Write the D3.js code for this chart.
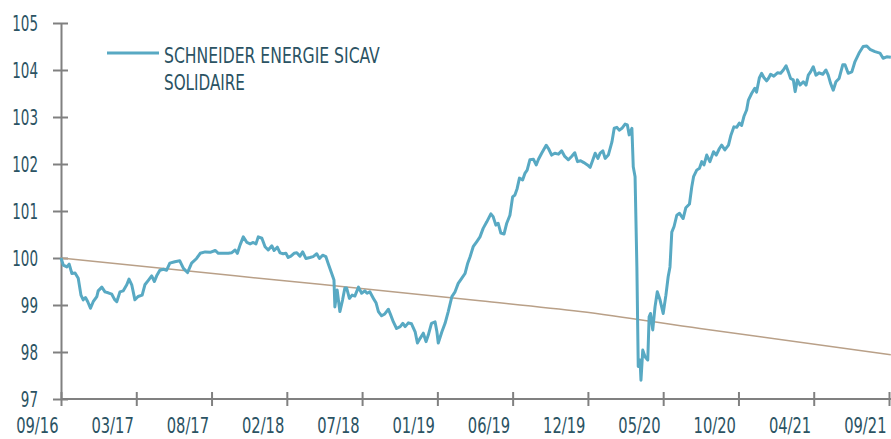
<!DOCTYPE html>
<html>
<head>
<meta charset="utf-8">
<script src="https://cdn.jsdelivr.net/npm/d3@7"></script>
<style>
  body { margin: 0; background: #fff; }
  svg { display: block; }
  text { font-family: "DejaVu Sans Condensed", "DejaVu Sans", sans-serif; font-stretch: condensed; fill: #2b5363; }
</style>
</head>
<body>
<div id="chart"></div>
<script>
var startDate = "2016-09-28";
var totalDays = 1826;
var xLabels = ["09/16", "03/17", "08/17", "02/18", "07/18", "01/19", "06/19", "12/19", "05/20", "10/20", "04/21", "09/21"];
var yTicks = [97, 98, 99, 100, 101, 102, 103, 104, 105];
var seriesName = ["SCHNEIDER ENERGIE SICAV", "SOLIDAIRE"];

/* fund: days since start / value */
var fundDays = [0, 5, 13, 18, 24, 31, 38, 44, 49, 54, 59, 65, 71, 79, 82, 90, 97, 104, 112, 118,
  123, 130, 137, 145, 150, 156, 163, 170, 179, 185, 193, 200, 206, 211, 218, 226, 233, 240, 251, 262,
  270, 279, 288, 299, 307, 318, 329, 340, 347, 358, 369, 376, 384, 389, 395, 402, 410, 417, 424, 430,
  435, 443, 450, 457, 465, 470, 477, 483, 490, 496, 501, 507, 514, 520, 527, 533, 540, 549, 556, 564,
  570, 577, 584, 589, 597, 602, 604, 609, 615, 621, 626, 630, 636, 642, 648, 656, 663, 670, 675, 681,
  689, 695, 700, 707, 714, 722, 727, 733, 740, 748, 754, 759, 766, 773, 781, 786, 792, 799, 805, 810,
  817, 825, 829, 832, 840, 847, 854, 862, 869, 876, 884, 891, 897, 902, 909, 917, 924, 931, 939, 948,
  953, 959, 964, 970, 977, 983, 990, 996, 1001, 1006, 1011, 1018, 1023, 1028, 1034, 1042, 1048, 1053, 1060, 1070,
  1075, 1082, 1089, 1097, 1104, 1111, 1119, 1126, 1133, 1139, 1146, 1153, 1161, 1167, 1173, 1178, 1184, 1189, 1195, 1200,
  1207, 1215, 1220, 1226, 1231, 1237, 1244, 1249, 1253, 1259, 1262, 1266, 1270, 1273, 1277, 1279, 1283, 1288, 1294, 1297,
  1300, 1305, 1310, 1315, 1321, 1328, 1334, 1339, 1343, 1347, 1352, 1358, 1364, 1372, 1378, 1386, 1391, 1395, 1402, 1408,
  1413, 1418, 1424, 1431, 1439, 1445, 1452, 1457, 1464, 1472, 1477, 1484, 1490, 1496, 1501, 1506, 1512, 1516, 1523, 1530,
  1534, 1540, 1545, 1550, 1556, 1560, 1565, 1572, 1580, 1587, 1593, 1599, 1604, 1609, 1615, 1619, 1624, 1630, 1637, 1643,
  1648, 1653, 1659, 1665, 1672, 1680, 1687, 1692, 1697, 1703, 1709, 1716, 1724, 1729, 1736, 1744, 1751, 1760, 1769, 1777,
  1784, 1795, 1806, 1813, 1821, 1830];
var fundValues = [100.00, 99.85, 99.81, 99.87, 99.67, 99.68, 99.57, 99.21, 99.11, 99.16, 99.07, 98.93, 99.07, 99.18, 99.30, 99.38, 99.28, 99.26, 99.23, 99.12,
  99.07, 99.28, 99.30, 99.43, 99.55, 99.43, 99.11, 99.18, 99.21, 99.43, 99.53, 99.62, 99.50, 99.62, 99.74, 99.76, 99.74, 99.89, 99.92, 99.94,
  99.78, 99.69, 99.89, 99.99, 100.10, 100.13, 100.12, 100.16, 100.10, 100.10, 100.10, 100.11, 100.17, 100.10, 100.28, 100.45, 100.33, 100.30, 100.33, 100.30,
  100.45, 100.42, 100.24, 100.17, 100.26, 100.16, 100.23, 100.11, 100.09, 100.10, 100.01, 100.04, 100.10, 100.11, 100.04, 100.13, 99.99, 100.01, 100.03, 100.09,
  99.99, 100.06, 100.03, 99.89, 99.67, 99.53, 98.96, 99.32, 98.86, 99.11, 99.36, 99.36, 99.14, 99.21, 99.19, 99.38, 99.25, 99.30, 99.25, 99.28,
  99.14, 99.04, 98.86, 98.77, 98.81, 98.91, 98.79, 98.64, 98.50, 98.54, 98.61, 98.54, 98.62, 98.60, 98.43, 98.19, 98.29, 98.40, 98.22, 98.36,
  98.61, 98.64, 98.43, 98.19, 98.43, 98.61, 98.86, 99.18, 99.28, 99.46, 99.57, 99.67, 99.89, 100.02, 100.24, 100.35, 100.45, 100.63, 100.77, 100.94,
  100.88, 100.70, 100.74, 100.53, 100.51, 100.74, 100.91, 101.30, 101.34, 101.48, 101.70, 101.66, 101.80, 101.87, 102.09, 102.10, 101.98, 102.10, 102.23, 102.40,
  102.33, 102.19, 102.23, 102.21, 102.28, 102.16, 102.09, 102.16, 102.24, 102.05, 102.07, 102.03, 101.98, 101.93, 102.09, 102.23, 102.12, 102.23, 102.28, 102.12,
  102.19, 102.47, 102.76, 102.78, 102.72, 102.76, 102.85, 102.83, 102.62, 102.76, 101.94, 101.73, 99.81, 97.69, 97.83, 97.40, 98.04, 97.90, 97.83, 98.75,
  98.82, 98.47, 98.96, 99.28, 99.11, 98.82, 99.21, 99.60, 99.81, 100.55, 100.67, 100.91, 100.95, 100.84, 101.07, 101.15, 101.51, 101.73, 101.87, 101.91,
  102.05, 101.98, 102.19, 102.05, 102.26, 102.19, 102.33, 102.40, 102.30, 102.40, 102.60, 102.79, 102.78, 102.87, 102.82, 103.01, 103.15, 103.36, 103.50, 103.61,
  103.53, 103.83, 103.93, 103.84, 103.77, 103.82, 103.91, 103.87, 103.94, 103.93, 104.00, 104.09, 103.96, 103.82, 103.79, 103.54, 103.79, 103.68, 103.75, 103.68,
  103.89, 103.96, 104.07, 103.89, 103.94, 103.91, 104.00, 103.89, 103.72, 103.57, 103.75, 103.82, 104.11, 104.11, 103.93, 103.96, 104.18, 104.36, 104.50, 104.51,
  104.44, 104.39, 104.36, 104.25, 104.28, 104.27];

/* reference (capitalised money rate) */
var refDays = [0, 384, 571, 924, 1145, 1409, 1830];
var refValues = [100.00, 99.62, 99.44, 99.09, 98.86, 98.50, 97.94];

var W = 891, H = 439;
var margin = { left: 61, right: 2, top: 23, bottom: 40 };

var t0 = d3.timeParse("%Y-%m-%d")(startDate);
var addDays = function(n) { return d3.timeDay.offset(t0, n); };

var x = d3.scaleTime()
  .domain([t0, addDays(totalDays)])
  .range([margin.left, W - margin.right]);
var y = d3.scaleLinear()
  .domain([97, 105])
  .range([H - margin.bottom, margin.top]);

var svg = d3.select("#chart").append("svg")
  .attr("width", W)
  .attr("height", H);

var tickDates = xLabels.map(function(d, i) { return addDays(i * totalDays / (xLabels.length - 1)); });

// the original font is much narrower: squeeze each text horizontally
var narrowWidth = function(s) {
  var w = 0;
  for (var i = 0; i < s.length; i++) w += s[i] == "/" ? 8 : 8.6;
  return w;
};
function squeeze(sel, tx, ty, widthFn) {
  sel.each(function(d, i) {
    var t = d3.select(this);
    var k = widthFn.call(this, d, i) / this.getComputedTextLength();
    t.attr("x", 0).attr("y", 0)
      .attr("transform", "translate(" + tx(d, i) + "," + ty(d, i) + ") scale(" + k + ",1)");
  });
}

/* axes */
var gx = svg.append("g")
  .attr("transform", "translate(0," + y(97) + ")")
  .call(d3.axisBottom(x).tickValues(tickDates).tickSizeOuter(0)
    .tickFormat(function(d, i) { return xLabels[i]; }));
gx.select(".domain").attr("d", "M" + margin.left + ",0H" + W);
gx.selectAll(".tick line").attr("y1", -7).attr("y2", 7);

var gy = svg.append("g")
  .attr("transform", "translate(" + margin.left + ",0)")
  .call(d3.axisLeft(y).tickValues(yTicks).tickSizeOuter(0).tickFormat(d3.format("d")));
gy.selectAll(".tick line").attr("x1", -8).attr("x2", 7);

svg.selectAll(".domain, .tick line")
  .attr("stroke", "#808080")
  .attr("stroke-width", 2);
svg.selectAll(".tick text")
  .attr("font-size", 21)
  .attr("fill", "#2b5363")
  .attr("font-family", null);

gx.selectAll(".tick text").attr("dy", 0).attr("text-anchor", "end");
squeeze(gx.selectAll(".tick text"),
  function() { return -3; }, function() { return 34; },
  function() { return narrowWidth(this.textContent); });
gy.selectAll(".tick text").attr("dy", "0.36em");
squeeze(gy.selectAll(".tick text"),
  function() { return -23; }, function() { return 0; },
  function() { return narrowWidth(this.textContent); });

/* lines */
var line = d3.line()
  .x(function(d) { return x(addDays(d[0])); })
  .y(function(d) { return y(d[1]); });

svg.append("path")
  .datum(d3.zip(refDays, refValues))
  .attr("fill", "none")
  .attr("stroke", "#b9a088")
  .attr("stroke-width", 1.5)
  .attr("d", line.curve(d3.curveMonotoneX));

svg.append("path")
  .datum(d3.zip(fundDays, fundValues))
  .attr("fill", "none")
  .attr("stroke", "#58a9c3")
  .attr("stroke-width", 3)
  .attr("stroke-linejoin", "round")
  .attr("d", line.curve(d3.curveLinear));

/* legend */
var legendWidths = [216, 81];
var lg = svg.append("g").attr("transform", "translate(107,53)");
lg.append("line")
  .attr("x1", 0).attr("x2", 52)
  .attr("stroke", "#58a9c3")
  .attr("stroke-width", 3);
var labs = lg.selectAll("text.lab")
  .data(seriesName)
  .enter().append("text")
  .attr("class", "lab")
  .attr("font-size", 21)
  .text(function(d) { return d; });
squeeze(labs,
  function() { return 57; }, function(d, i) { return 10 + i * 27; },
  function(d, i) { return legendWidths[i]; });
</script>
</body>
</html>
